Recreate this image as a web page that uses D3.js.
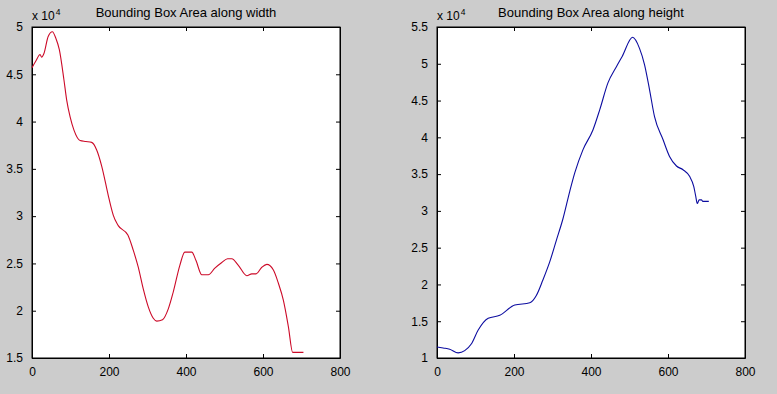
<!DOCTYPE html>
<html>
<head>
<meta charset="utf-8">
<script src="https://cdn.jsdelivr.net/npm/d3@7"></script>
<style>
  body { margin: 0; background: #cccccc; }
  svg { display: block; font-family: "Liberation Sans", Arial, sans-serif; }
</style>
</head>
<body>
<script>
// frame index and bounding box area
var widthX = [0, 10, 21, 25, 31, 42, 53, 62, 71, 83, 90, 99, 109, 125, 140, 155, 168, 181, 198, 205, 211, 224, 249, 263, 276, 289, 302, 315, 324, 339, 354, 367, 384, 397, 415, 426, 441, 458, 475, 493, 508, 519, 536, 558, 571, 582, 597, 610, 627, 640, 653, 666, 677, 705];
var widthArea = [45700, 46400, 47100, 46800, 47200, 49000, 49500, 48800, 47600, 44400, 42300, 40500, 39100, 38000, 37900, 37800, 37000, 35300, 32200, 31000, 30100, 29000, 28000, 26400, 24600, 22300, 20400, 19200, 18900, 19050, 20200, 22000, 24800, 26200, 26200, 25300, 23800, 23800, 24500, 25100, 25500, 25500, 24800, 23700, 23900, 23900, 24600, 24900, 24300, 22900, 21100, 18300, 15600, 15600];

var heightX = [0, 16, 33, 55, 72, 89, 107, 133, 163, 202, 241, 258, 275, 293, 310, 327, 345, 358, 379, 405, 423, 444, 466, 481, 508, 526, 539, 552, 565, 587, 604, 622, 639, 656, 667, 672, 676, 681, 687, 690, 706];
var heightArea = [11500, 11360, 11200, 10700, 11000, 11900, 13800, 15400, 15800, 17200, 17500, 18500, 20600, 23100, 26000, 28900, 32700, 35200, 38300, 41000, 43800, 47400, 49600, 51000, 53600, 52100, 49900, 46500, 42800, 39700, 37400, 36100, 35600, 34700, 33300, 32000, 31000, 31500, 31500, 31300, 31300];

var xTicks = [0, 200, 400, 600, 800];
var widthTicks = [15000, 20000, 25000, 30000, 35000, 40000, 45000, 50000];
var heightTicks = [10000, 15000, 20000, 25000, 30000, 35000, 40000, 45000, 50000, 55000];

var svgWidth = 777;
var svgHeight = 394;

var svg = d3.select("body")
  .append("svg")
  .attr("width", svgWidth)
  .attr("height", svgHeight);

function drawPanel(opts) {
  var width = 308;
  var height = 331;

  var g = svg.append("g")
    .attr("transform", `translate(${opts.left}, 27)`);

  var x = d3.scaleLinear().domain([0, 800]).range([0, width]);
  var y = d3.scaleLinear().domain(opts.yDomain).range([height, 0]);

  g.append("rect")
    .attr("width", width)
    .attr("height", height)
    .attr("fill", "#ffffff");

  var fmt = d => d3.format("~g")(d / 10000);

  // MATLAB style: ticks inside on all four sides
  g.append("g")
    .attr("transform", `translate(0, ${height})`)
    .call(d3.axisBottom(x).tickValues(xTicks).tickSizeInner(-4).tickSizeOuter(0).tickPadding(9).tickFormat(d3.format("d")));
  g.append("g")
    .call(d3.axisTop(x).tickValues(xTicks).tickSizeInner(-4).tickSizeOuter(0).tickFormat(""));
  g.append("g")
    .call(d3.axisLeft(y).tickValues(opts.yTicks).tickSizeInner(-4).tickSizeOuter(0).tickPadding(9).tickFormat(fmt));
  g.append("g")
    .attr("transform", `translate(${width}, 0)`)
    .call(d3.axisRight(y).tickValues(opts.yTicks).tickSizeInner(-4).tickSizeOuter(0).tickFormat(""));

  g.selectAll(".domain").attr("stroke", "#000");
  g.selectAll(".tick line").attr("stroke", "#000");
  g.selectAll(".tick text")
    .attr("fill", "#000")
    .style("font-size", "12px")
    .style("font-family", "Liberation Sans, Arial, sans-serif");

  g.append("rect")
    .attr("width", width)
    .attr("height", height)
    .attr("fill", "none")
    .attr("stroke", "#000");

  var line = d3.line()
    .x((d, i) => x(opts.xs[i]))
    .y(d => y(d))
    .curve(d3.curveMonotoneX);

  g.append("path")
    .datum(opts.ys)
    .attr("fill", "none")
    .attr("stroke", opts.color)
    .attr("stroke-width", 1.1)
    .attr("d", line);

  // title
  g.append("text")
    .attr("x", width / 2)
    .attr("y", -10.5)
    .attr("text-anchor", "middle")
    .style("font-size", "13px")
    .text(opts.title);

  // exponent label
  var ex = g.append("text")
    .attr("x", 0)
    .attr("y", -7)
    .style("font-size", "12px");
  ex.append("tspan").text("x 10");
  ex.append("tspan")
    .attr("dy", -5.5)
    .attr("dx", 1)
    .style("font-size", "8.5px")
    .text("4");
}

drawPanel({
  left: 32,
  yDomain: [15000, 50000],
  yTicks: widthTicks,
  xs: widthX,
  ys: widthArea,
  color: "#cc0a28",
  title: "Bounding Box Area along width"
});

drawPanel({
  left: 437,
  yDomain: [10000, 55000],
  yTicks: heightTicks,
  xs: heightX,
  ys: heightArea,
  color: "#0c0ca0",
  title: "Bounding Box Area along height"
});
</script>
</body>
</html>
